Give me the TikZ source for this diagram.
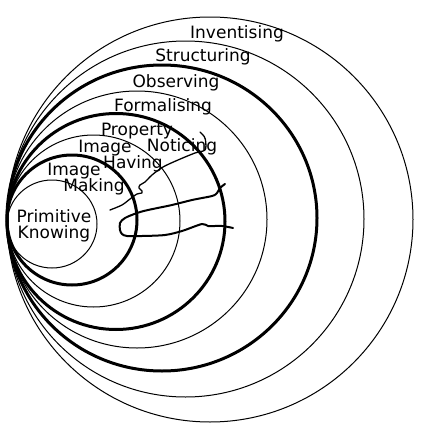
\documentclass[tikz,border=0pt]{standalone}
\usepackage{fontspec}
\setmainfont{DejaVu Sans}
\begin{document}
\begin{tikzpicture}[x=1pt,y=-1pt,
  thinring/.style={line width=1pt},
  thickring/.style={line width=3pt},
  lbl/.style={inner sep=0pt,font=\fontsize{17}{17}\selectfont},
  squig/.style={line width=1.3pt,line join=round,line cap=round},
  squigb/.style={line width=2pt,line join=round,line cap=round}]
\useasboundingbox[fill=white] (0,0) rectangle (423,431);
% rings
\draw[thinring]  (52,224)    ellipse [x radius=45pt,  y radius=44pt];
\draw[thickring] (72,220)    ellipse [x radius=65pt,  y radius=65pt];
\draw[thinring]  (93.5,221)  ellipse [x radius=86.5pt,y radius=86pt];
\draw[thickring] (116,221.5) ellipse [x radius=109pt, y radius=108pt];
\draw[thinring]  (137,219.5) ellipse [x radius=130pt, y radius=128.5pt];
\draw[thickring] (162,218)   ellipse [x radius=155pt, y radius=153pt];
\draw[thinring]  (185.5,219) ellipse [x radius=178.5pt,y radius=178pt];
\draw[thinring]  (210,219.5) ellipse [x radius=203pt, y radius=202.5pt];
% labels
\node[lbl] (inv)  at (237,34)  {Inventising};
\node[lbl] (str)  at (203,57)  {Structuring};
\node[lbl] (obs)  at (176,83)  {Observing};
\node[lbl] (for)  at (163,107) {Formalising};
\node[lbl] (prop) at (137,131) {Property};
\node[lbl] (noti) at (182,147) {Noticing};
\node[lbl] (imh)  at (105,148) {Image};
\node[lbl] (hav)  at (133,164) {Having};
\node[lbl] (imm)  at (74,171)  {Image};
\node[lbl] (mak)  at (94,187)  {Making};
\node[lbl] (pri)  at (54,216)  {Primitive};
\node[lbl] (kno)  at (54,234)  {Knowing};
% squiggles
\draw[squig] plot[smooth,tension=0.5] coordinates {(200,132) (204.3,136.7) (205.7,141.7) (205,150) (195,153) (178,160) (163,167) (152,175) (145,182) (140,185) (139,188) (142,191) (142,193) (137,194) (130,199) (122,205) (110,210)};
\draw[squigb] plot[smooth,tension=0.5] coordinates {(225,184) (220,188) (217,193) (212,196) (192,200) (172,205) (148,210) (137,213) (125,218) (120,223) (120,230) (122,234) (127,236) (142,236) (165,235) (182,231) (202,224) (208,226) (222,226) (233,228)};
\end{tikzpicture}
\end{document}
